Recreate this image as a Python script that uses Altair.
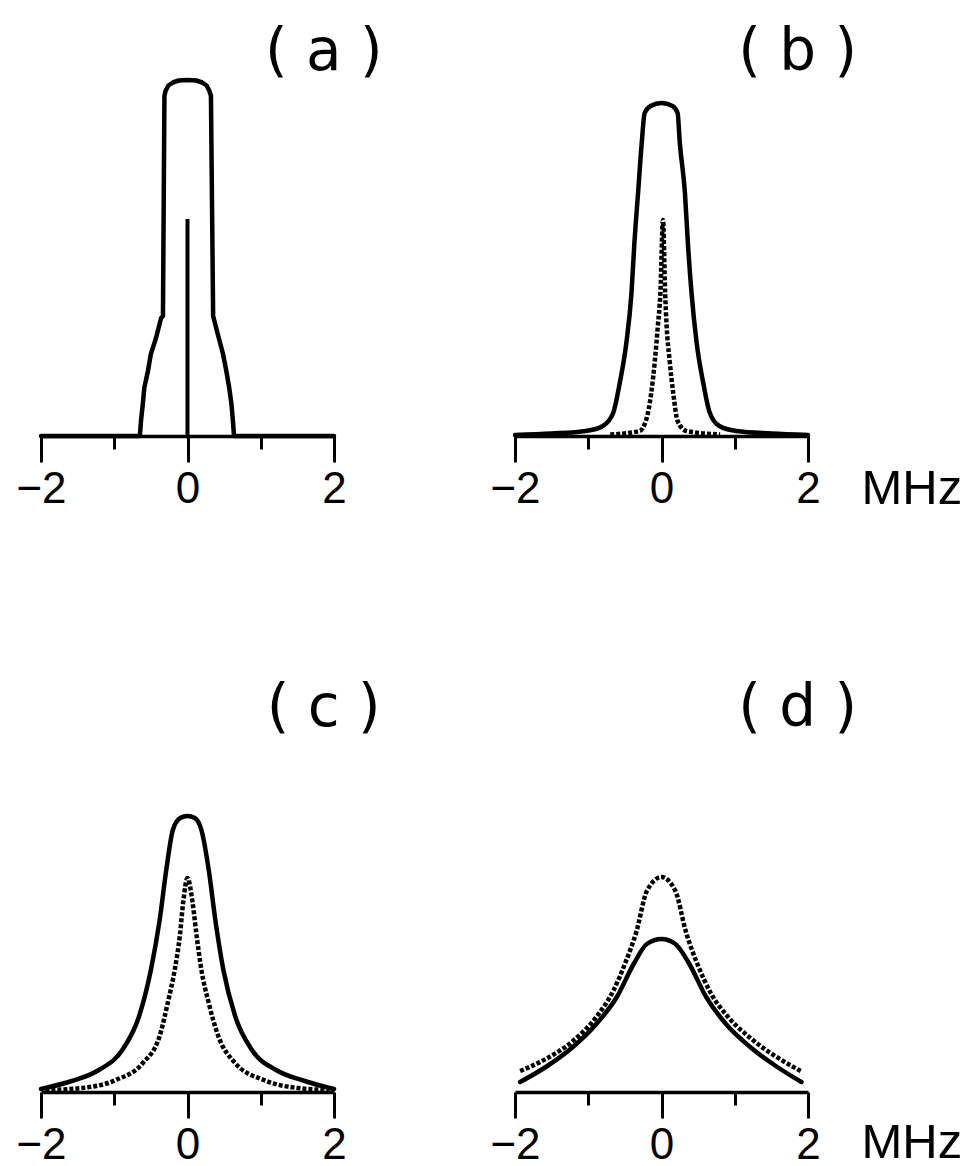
import altair as alt
import pandas as pd

# Frequency offset in MHz, intensity in arbitrary units (0 = baseline).

# (a) flat-topped envelope (drawn in path order) and the central line
A_X = [-2.0, -0.65, -0.635, -0.61, -0.59, -0.54, -0.50, -0.43, -0.36, -0.335,
       -0.315, -0.30, -0.26, -0.20, -0.12, 0.0, 0.12, 0.20, 0.26, 0.30, 0.32,
       0.35, 0.36, 0.42, 0.485, 0.53, 0.57, 0.60, 0.62, 0.635, 2.0]
A_Y = [0.0, 0.0, 0.15, 0.32, 0.48, 0.65, 0.82, 0.98, 1.18, 1.20,
       3.40, 3.45, 3.505, 3.535, 3.555, 3.56, 3.555, 3.535, 3.505, 3.45, 3.40,
       1.20, 1.17, 1.00, 0.82, 0.65, 0.48, 0.32, 0.15, 0.0, 0.0]
A_STICK = 2.17

# (b)
B_SOLID_X = [-2.0, -1.5, -1.03, -0.80, -0.66, -0.57, -0.48, -0.41, -0.37, -0.32,
             -0.27, -0.23, -0.15, 0.0, 0.15, 0.22, 0.25, 0.32, 0.36, 0.41,
             0.48, 0.57, 0.66, 0.79, 1.02, 1.5, 2.0]
B_SOLID_Y = [0.01, 0.025, 0.05, 0.10, 0.23, 0.53, 0.93, 1.43, 1.93, 2.43,
             2.93, 3.23, 3.30, 3.33, 3.30, 3.23, 2.93, 2.43, 1.93, 1.43,
             0.93, 0.53, 0.23, 0.10, 0.05, 0.025, 0.01]
B_DOT_X = [-0.7, -0.30, -0.21, -0.14, -0.09, -0.05, -0.015, 0.02, 0.05, 0.07,
           0.11, 0.16, 0.22, 0.34, 0.8]
B_DOT_Y = [0.015, 0.05, 0.16, 0.43, 0.76, 1.10, 1.43, 2.16, 1.43, 1.10,
           0.76, 0.43, 0.15, 0.05, 0.015]

# (c)
C_SOLID_X = [-2.0, -1.94, -1.58, -1.21, -0.89, -0.66, -0.50, -0.38, -0.29, -0.20,
             -0.10, 0.0, 0.10, 0.19, 0.29, 0.38, 0.49, 0.65, 0.88, 1.21,
             1.60, 1.94, 2.0]
C_SOLID_Y = [0.03, 0.04, 0.11, 0.22, 0.42, 0.76, 1.22, 1.72, 2.22, 2.62,
             2.74, 2.76, 2.74, 2.62, 2.22, 1.72, 1.22, 0.76, 0.42, 0.22,
             0.11, 0.04, 0.03]
C_DOT_X = [-1.94, -1.44, -0.98, -0.61, -0.38, -0.27, -0.175, -0.105, -0.06, 0.0,
           0.07, 0.125, 0.19, 0.29, 0.42, 0.65, 1.04, 1.50, 1.94]
C_DOT_Y = [0.02, 0.04, 0.12, 0.29, 0.56, 0.89, 1.22, 1.56, 1.89, 2.14,
           1.89, 1.56, 1.22, 0.89, 0.56, 0.29, 0.12, 0.04, 0.02]

# (d)
D_SOLID_X = [-1.93, -1.58, -1.21, -0.89, -0.61, -0.38, -0.20, 0.0, 0.19, 0.38,
             0.61, 0.88, 1.21, 1.58, 1.91]
D_SOLID_Y = [0.10, 0.25, 0.45, 0.68, 0.95, 1.28, 1.48, 1.53, 1.48, 1.28,
             0.95, 0.68, 0.45, 0.25, 0.10]
D_DOT_X = [-1.93, -1.58, -1.21, -0.89, -0.66, -0.50, -0.34, -0.20, 0.0, 0.19,
           0.33, 0.49, 0.68, 0.91, 1.23, 1.55, 1.90]
D_DOT_Y = [0.21, 0.33, 0.51, 0.75, 1.01, 1.28, 1.61, 2.01, 2.15, 2.01,
           1.61, 1.28, 0.98, 0.75, 0.53, 0.36, 0.21]

PANEL_LABELS = ["( a )", "( b )", "( c )", "( d )"]
LABEL_X, LABEL_Y = 1.86, 3.66
X_TICKS = [-2, -1, 0, 1, 2]
UNIT = "MHz"

PANEL_W, PANEL_H = 293, 400
INK = "#000000"


def x_enc(with_unit, title_y):
    axis_kw = dict(
        values=X_TICKS,
        labelExpr="datum.value % 2 === 0 ? datum.label : ''",
        tickSize={"condition": {"test": "datum.value % 2 === 0", "value": 26}, "value": 13},
        tickWidth=3,
        tickColor=INK,
        domainWidth=3.5,
        domainColor=INK,
        labelFont="Liberation Sans",
        labelFontSize=44,
        labelColor=INK,
        labelPadding=5,
        labelFlush=False,
        labelOverlap=False,
        grid=False,
    )
    if with_unit:
        axis_kw.update(
            title=UNIT,
            titleFont="Liberation Sans",
            titleFontSize=49,
            titleFontWeight="normal",
            titleColor=INK,
            titleAlign="left",
            titleBaseline="alphabetic",
            titleX=346,
            titleY=title_y,
        )
    else:
        axis_kw.update(title=None)
    return alt.X("x:Q", scale=alt.Scale(domain=[-2, 2], nice=False, zero=False),
                 axis=alt.Axis(**axis_kw))


Y_ENC = alt.Y("y:Q", scale=alt.Scale(domain=[0, 4], nice=False, zero=True), axis=None)


def solid_line(xs, ys, xe, ordered=False):
    df = pd.DataFrame({"x": xs, "y": ys, "i": range(len(xs))})
    enc = dict(x=xe, y=Y_ENC)
    if ordered:
        enc["order"] = alt.Order("i:Q")
        mark = alt.Chart(df).mark_line(color=INK, strokeWidth=4.5, strokeJoin="round",
                                       strokeCap="round")
    else:
        mark = alt.Chart(df).mark_line(color=INK, strokeWidth=4.5, strokeCap="round",
                                       interpolate="monotone")
    return mark.encode(**enc)


def dotted_line(xs, ys, xe):
    df = pd.DataFrame({"x": xs, "y": ys})
    return alt.Chart(df).mark_line(color=INK, strokeWidth=4.5, strokeDash=[4, 2],
                                   interpolate="monotone").encode(x=xe, y=Y_ENC)


def panel_label(text, xe):
    df = pd.DataFrame({"x": [LABEL_X], "y": [LABEL_Y], "t": [text]})
    return alt.Chart(df).mark_text(font="DejaVu Sans", fontSize=58, color=INK,
                                   align="center", baseline="alphabetic").encode(
        x=xe, y=Y_ENC, text="t:N")


def panel(layers):
    return alt.layer(*layers).properties(width=PANEL_W, height=PANEL_H)


xa = x_enc(False, 0)
xb = x_enc(True, 67)
xc = x_enc(False, 0)
xd = x_enc(True, 65)

stick = alt.Chart(pd.DataFrame({"x": [0.0], "y": [0.0], "y2": [A_STICK]})).mark_rule(
    color=INK, strokeWidth=4).encode(x=xa, y=Y_ENC, y2="y2:Q")

pa = panel([solid_line(A_X, A_Y, xa, ordered=True), stick, panel_label(PANEL_LABELS[0], xa)])
pb = panel([solid_line(B_SOLID_X, B_SOLID_Y, xb), dotted_line(B_DOT_X, B_DOT_Y, xb),
            panel_label(PANEL_LABELS[1], xb)])
pc = panel([solid_line(C_SOLID_X, C_SOLID_Y, xc), dotted_line(C_DOT_X, C_DOT_Y, xc),
            panel_label(PANEL_LABELS[2], xc)])
pd_ = panel([solid_line(D_SOLID_X, D_SOLID_Y, xd), dotted_line(D_DOT_X, D_DOT_Y, xd),
             panel_label(PANEL_LABELS[3], xd)])

chart = alt.concat(pa, pb, pc, pd_, columns=2,
                   spacing={"row": 256, "column": 181}, bounds="flush").properties(
    padding={"left": 15, "top": 23, "right": 0, "bottom": 0},
    background="white",
).configure_view(stroke=None)

chart.save("out.html", embed_options={"renderer": "svg", "actions": False})
